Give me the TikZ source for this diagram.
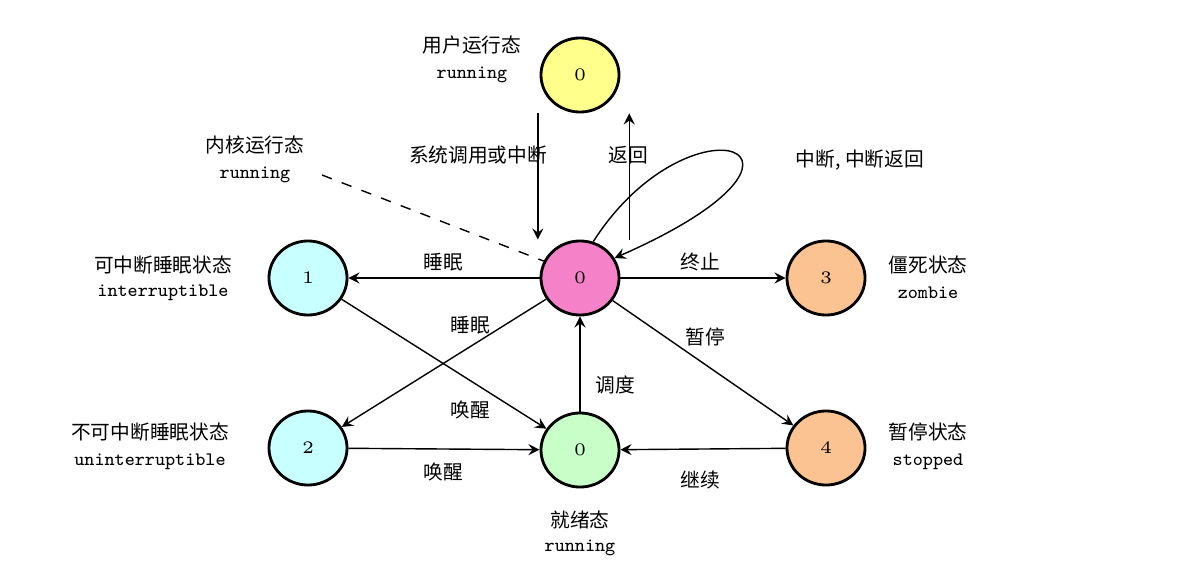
\documentclass[tikz,border=0pt]{standalone}
\usepackage{fontspec}
\usepackage{xcolor}
\usetikzlibrary{arrows,positioning,calc,shapes.geometric}
\newfontfamily\cjk{Noto Sans CJK SC}
\definecolor{stateyellow}{RGB}{255,255,140}
\definecolor{statepink}{RGB}{245,130,200}
\definecolor{statecyan}{RGB}{200,255,255}
\definecolor{stategreen}{RGB}{200,255,200}
\definecolor{stateorange}{RGB}{250,195,145}
\begin{document}
\begin{tikzpicture}[x=0.01cm,y=-0.01cm,
    state/.style={draw, line width=0.8pt, ellipse, inner sep=0pt, minimum width=0.78cm, minimum height=0.74cm, font=\fontsize{5}{6}\selectfont},
    lbl/.style={font=\cjk\fontsize{5.6}{6.5}\selectfont},
    eng/.style={font=\ttfamily\fontsize{5.4}{6.5}\selectfont},
    trans/.style={->, >=stealth, line width=0.4pt}]
    \useasboundingbox (0,0) rectangle (1195,585);
				% States
				\node[state, fill=stateyellow] (user) at (580,75) {0};
				\node[state, fill=statepink] (kern) at (580,278) {0};
				\node[state, fill=statecyan] (s1) at (308,278) {1};
				\node[state, fill=statecyan] (s2) at (308,448) {2};
				\node[state, fill=stategreen] (ready) at (580,450) {0};
				\node[state, fill=stateorange] (s3) at (826,278) {3};
				\node[state, fill=stateorange] (s4) at (826,448) {4};
				
				% State names
				\node[lbl] at (472,45) {用户运行态};
				\node[eng] at (472,75) {running};
				\node[lbl] (kname) at (255,145) {内核运行态};
				\node[eng] (krun) at (255,175) {running};
				\node[lbl] at (163,265) {可中断睡眠状态};
				\node[eng] at (163,293) {interruptible};
				\node[lbl] at (150,432) {不可中断睡眠状态};
				\node[eng] at (150,462) {uninterruptible};
				\node[lbl] at (580,520) {就绪态};
				\node[eng] at (580,548) {running};
				\node[lbl] at (928,265) {僵死状态};
				\node[eng] at (928,293) {zombie};
				\node[lbl] at (928,432) {暂停状态};
				\node[eng] at (928,462) {stopped};
				
				% Transitions
				\draw[trans] ([xshift=-12]user.south) -- ([xshift=-12]kern.north);
				\draw[trans] ([xshift=14]kern.north) -- ([xshift=14]user.south);
				\node[lbl] at (478,155) {系统调用或中断};
				\node[lbl] at (628,155) {返回};
				\draw[trans] (kern) -- (s1);
				\node[lbl] at (443,262) {睡眠};
				\draw[trans] (kern) -- (s2);
				\node[lbl] at (470,325) {睡眠};
				\draw[trans] (s1) -- (ready);
				\node[lbl] at (470,410) {唤醒};
				\draw[trans] (s2) -- (ready);
				\node[lbl] at (443,472) {唤醒};
				\draw[trans] (ready) -- (kern);
				\node[lbl] at (615,385) {调度};
				\draw[trans] (kern) -- (s3);
				\node[lbl] at (700,262) {终止};
				\draw[trans] (kern) -- (s4);
				\node[lbl] at (705,337) {暂停};
				\draw[trans] (s4) -- (ready);
				\node[lbl] at (700,480) {继续};
				\draw[trans] (kern.70) .. controls (690,90) and (860,150) .. (kern.30);
				\node[lbl] at (860,160) {中断, 中断返回};
				\draw[dashed, line width=0.4pt] (322,175) -- (kern.155);
\end{tikzpicture}
\end{document}
